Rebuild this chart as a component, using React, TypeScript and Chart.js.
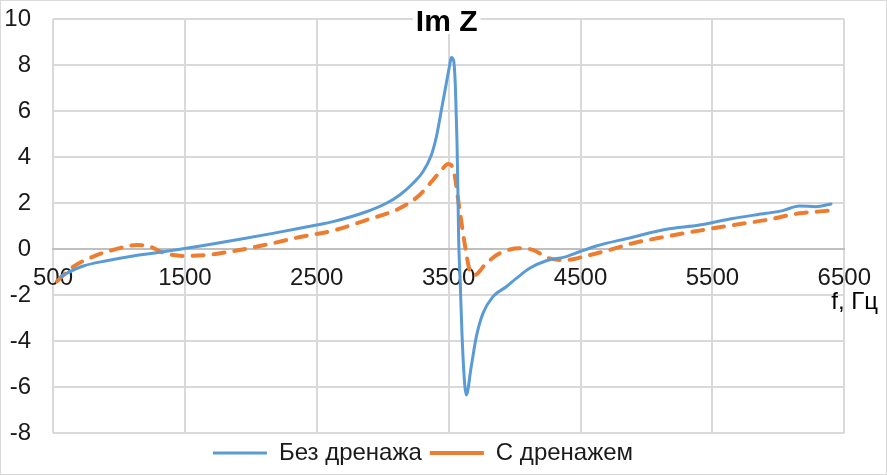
import { useEffect, useRef } from 'react';
import Chart from 'chart.js/auto';

// Im Z vs frequency
const freqNoDrain = [
  560, 580, 730, 907, 1108, 1285, 1462, 1664, 1917, 2167, 2371, 2498, 2623, 2876, 3028,
  3129, 3230, 3305, 3369, 3407, 3445, 3482, 3508, 3520, 3538, 3551, 3563, 3570, 3576,
  3588, 3601, 3621, 3634, 3671, 3710, 3760, 3836, 3937, 4013, 4114, 4240, 4392, 4492,
  4619, 4871, 5149, 5402, 5654, 5907, 6033, 6159, 6285, 6399,
];
const imNoDrain = [
  -1.2, -1.13, -0.74, -0.51, -0.3, -0.16, -0.01, 0.17, 0.42, 0.68, 0.9, 1.04, 1.19, 1.62, 1.99,
  2.35, 2.86, 3.36, 4.09, 4.88, 6.04, 7.2, 8.0, 8.33, 8.19, 7.06, 4.74, 2.57, 0.39,
  -1.49, -3.67, -5.84, -6.35, -5.12, -3.81, -2.8, -2.07, -1.64, -1.28, -0.84, -0.51, -0.33, -0.12,
  0.13, 0.48, 0.86, 1.04, 1.33, 1.55, 1.67, 1.87, 1.84, 1.96,
];

const freqDrain = [
  530, 654, 805, 957, 1134, 1235, 1336, 1487, 1664, 1917, 2167, 2371, 2623, 2876, 3129,
  3280, 3381, 3457, 3495, 3533, 3583, 3621, 3659, 3697, 3785, 3886, 4038, 4139, 4265,
  4392, 4543, 4720, 4896, 5149, 5402, 5654, 5907, 6159, 6399,
];
const imDrain = [
  -1.4, -0.77, -0.33, -0.04, 0.17, 0.1, -0.16, -0.3, -0.26, -0.04, 0.25, 0.52, 0.8, 1.26, 1.77,
  2.35, 3.0, 3.51, 3.7, 3.51, 1.7, 0.25, -0.91, -1.13, -0.62, -0.19, 0.03, -0.04, -0.41,
  -0.48, -0.3, -0.04, 0.25, 0.54, 0.8, 1.04, 1.26, 1.55, 1.67,
];

const seriesLabels = ['Без дренажа', 'С дренажем'];
const chartTitle = 'Im Z';
const xUnit = 'f, Гц';

const xMin = 500;
const xMax = 6500;
const xStep = 1000;
const yMin = -8;
const yMax = 10;
const yStep = 2;

const FONT = '"Liberation Sans", Arial, sans-serif';

const textPlugin = {
  id: 'textPlugin',
  beforeDatasetsDraw(chart: any) {
    const { ctx, chartArea, scales } = chart;
    const cx = (chartArea.left + chartArea.right) / 2 - 2;
    ctx.save();
    // title sits over the plot area with a white backing
    ctx.font = `bold 30px ${FONT}`;
    const w = ctx.measureText(chartTitle).width;
    ctx.fillStyle = '#fff';
    ctx.fillRect(cx - w / 2 - 3, 0, w + 6, 33);
    ctx.fillStyle = '#000';
    ctx.textAlign = 'center';
    ctx.textBaseline = 'middle';
    ctx.fillText(chartTitle, cx, 22);
    // unit under the end of the x axis
    ctx.font = `24px ${FONT}`;
    ctx.textAlign = 'left';
    ctx.fillText(xUnit, scales.x.getPixelForValue(xMax) - 13, scales.y.getPixelForValue(0) + 53);
    ctx.restore();
  },
};

export default function App() {
  const canvasRef = useRef<HTMLCanvasElement>(null);
  const chartRef = useRef<Chart | null>(null);

  useEffect(() => {
    if (!canvasRef.current) return;
    if (chartRef.current) chartRef.current.destroy();

    chartRef.current = new Chart(canvasRef.current, {
      type: 'line',
      data: {
        datasets: [
          {
            label: seriesLabels[0],
            data: freqNoDrain.map((f, i) => ({ x: f, y: imNoDrain[i] })),
            borderColor: '#5B9BD5',
            backgroundColor: '#5B9BD5',
            borderWidth: 3,
            pointRadius: 0,
            tension: 0.4,
            cubicInterpolationMode: 'monotone',
            borderCapStyle: 'round',
            borderJoinStyle: 'round',
          },
          {
            label: seriesLabels[1],
            data: freqDrain.map((f, i) => ({ x: f, y: imDrain[i] })),
            borderColor: '#ED7D31',
            backgroundColor: '#ED7D31',
            borderWidth: 4,
            borderDash: [11, 10],
            borderCapStyle: 'round',
            borderJoinStyle: 'round',
            pointRadius: 0,
            tension: 0.4,
            cubicInterpolationMode: 'monotone',
          },
        ],
      },
      options: {
        animation: false,
        responsive: true,
        maintainAspectRatio: false,
        layout: { padding: { top: 18, right: 41, left: 0, bottom: 0 } },
        scales: {
          x: {
            type: 'linear',
            position: { y: 0 } as any,
            min: xMin,
            max: xMax,
            ticks: {
              stepSize: xStep,
              padding: 15,
              maxRotation: 0,
              autoSkip: false,
              color: '#1a1a1a',
              font: { family: FONT, size: 24 },
              callback: (v: any) => String(v),
            },
            grid: { color: '#d9d9d9', lineWidth: 2, drawTicks: false },
            border: { color: '#bfbfbf', width: 2 },
          },
          y: {
            position: 'left',
            min: yMin,
            max: yMax,
            ticks: {
              stepSize: yStep,
              padding: 22,
              color: '#1a1a1a',
              font: { family: FONT, size: 24 },
              callback: (v: any) => String(v),
            },
            grid: {
              color: (c: any) => (c.tick && c.tick.value === 0 ? '#bfbfbf' : '#d9d9d9'),
              lineWidth: 2,
              drawTicks: false,
            },
            border: { display: false },
            afterFit: (s: any) => {
              s.width = 52;
              s.paddingTop = 0;
              s.paddingBottom = 0;
            },
          },
        },
        plugins: {
          title: { display: false },
          tooltip: { enabled: false },
          legend: {
            position: 'bottom',
            maxHeight: 41,
            labels: {
              usePointStyle: true,
              pointStyle: 'line',
              pointStyleWidth: 54,
              padding: 8,
              color: '#1a1a1a',
              font: { family: FONT, size: 24 },
            },
          },
        },
      },
      plugins: [textPlugin],
    });

    return () => {
      if (chartRef.current) {
        chartRef.current.destroy();
        chartRef.current = null;
      }
    };
  }, []);

  return (
    <div
      style={{
        position: 'fixed',
        left: 0,
        top: 0,
        width: 887,
        height: 475,
        border: '1px solid #d9d9d9',
        boxSizing: 'border-box',
        background: '#fff',
      }}
    >
      <div style={{ position: 'relative', width: 885, height: 473 }}>
        <canvas ref={canvasRef} />
      </div>
    </div>
  );
}
